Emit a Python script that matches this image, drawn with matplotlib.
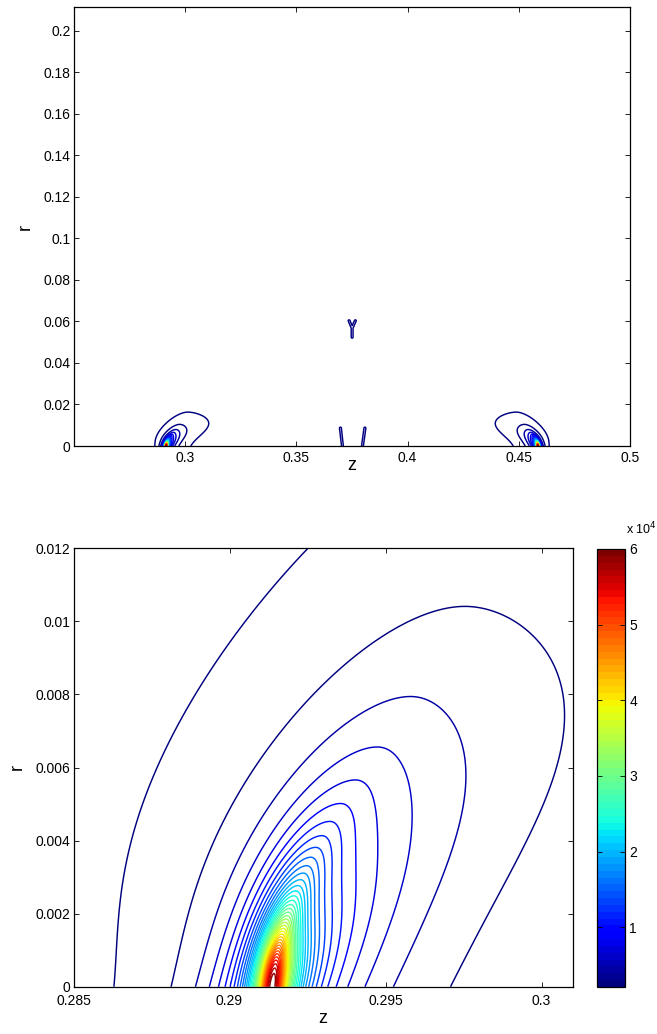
import numpy as np
import matplotlib
matplotlib.use("Agg")
import matplotlib.pyplot as plt
from matplotlib.colors import Normalize
from matplotlib.cm import ScalarMappable

# ---------------- data ----------------
peak_z = [0.29137, 0.45863]          # z of the two peaks (on r = 0)
peak_dir = [1, -1]                   # left blob leans to +z, right blob mirrored
peak_value = 60000.0                 # maximum of the field
core_scale = 17800.0                 # far-field strength (f ~ C / d^1.5)
far_cut = 9.0                        # far-field cut-off (in width units)
z_width = 0.001                      # axial width scale
r_width = 0.0032                     # radial width scale (outer contours)
r_width_inner_gain = 0.45            # extra radial reach of inner contours
r_width_inner_len = 0.002
left_growth = 0.9                    # widening of the trailing side with r
left_growth_len = 2.0
right_growth = 0.09                  # widening of the leading side with r
right_growth_max = 4.0
right_stretch = 0.235                # slower decay on the leading side
lean_inner = 0.15                    # dz/dr lean of inner contours
lean_outer = 0.60                    # dz/dr lean of outer contours
lean_scale = 1.6                     # transition (in width units)

# thin low-level features near z = 0.375 (segments)
artifact_z0 = [0.3707, 0.3797, 0.37506, 0.37506, 0.37506]
artifact_r0 = [0.0, 0.0, 0.0524, 0.0568, 0.0568]
artifact_z1 = [0.3698, 0.3808, 0.37506, 0.3737, 0.3765]
artifact_r1 = [0.0086, 0.0086, 0.0568, 0.0603, 0.0603]
artifact_amp = 2300.0

levels = np.arange(1500, 60000, 1500)
color_limits = (2100, 60000)

top_xlim = (0.25, 0.5)
top_ylim = (0.0, 0.2114)
top_xticks = [0.3, 0.35, 0.4, 0.45, 0.5]
top_yticks = [0, 0.02, 0.04, 0.06, 0.08, 0.1, 0.12, 0.14, 0.16, 0.18, 0.2]
bot_xlim = (0.285, 0.301)
bot_ylim = (0.0, 0.012)
bot_xticks = [0.285, 0.29, 0.295, 0.3]
bot_yticks = [0, 0.002, 0.004, 0.006, 0.008, 0.01, 0.012]
cbar_ticks = [10000, 20000, 30000, 40000, 50000, 60000]
cbar_labels = ["1", "2", "3", "4", "5", "6"]


# ---------------- field model ----------------
def dist2(dz, R, q):
    h = 1.0 + r_width_inner_gain * np.exp(-R / r_width_inner_len)
    rho = R / (r_width * h)
    u = dz - q * R
    gl = 1.0 + left_growth * (1.0 - np.exp(-rho / left_growth_len))
    c = right_growth * rho ** 2
    gr = 1.0 + c / (1.0 + c / (right_growth_max - 1.0))
    al = -u / (z_width * gl)
    ar = np.maximum(u, 0) / (z_width * gr)
    Ur = (-1.0 + np.sqrt(1.0 + 4 * right_stretch * ar)) / (2 * right_stretch)
    U = np.where(u < 0, al, Ur)
    return U ** 2 + rho ** 2


def blob(Z, R, z0, direction):
    dz = direction * (Z - z0)
    d_outer = np.sqrt(dist2(dz, R, lean_outer))
    q = lean_inner + (lean_outer - lean_inner) * (1.0 - np.exp(-(d_outer / lean_scale) ** 2))
    d2 = dist2(dz, R, q)
    eps = (core_scale / peak_value) ** (4.0 / 3.0)
    return core_scale / (eps + d2) ** 0.75 / (1.0 + (d2 / far_cut ** 2) ** 3)


def seg_dist(Z, R, z0, r0, z1, r1, sz, sr):
    pz, pr = Z / sz, R / sr
    az, ar, bz, br = z0 / sz, r0 / sr, z1 / sz, r1 / sr
    vz, vr = bz - az, br - ar
    t = ((pz - az) * vz + (pr - ar) * vr) / (vz * vz + vr * vr)
    t = np.clip(t, 0, 1)
    return np.hypot(pz - (az + t * vz), pr - (ar + t * vr))


def field(Z, R):
    F = np.zeros_like(Z)
    for z0, dr in zip(peak_z, peak_dir):
        F += blob(Z, R, z0, dr)
    dmin = np.full_like(Z, np.inf)
    for a, b, c, d in zip(artifact_z0, artifact_r0, artifact_z1, artifact_r1):
        dmin = np.minimum(dmin, seg_dist(Z, R, a, b, c, d, 0.00045 * 1.4, 0.00048 * 1.4))
    F += artifact_amp * np.exp(-dmin ** 2)
    return F


cmap = plt.get_cmap("jet", 64)
norm = Normalize(*color_limits)

plt.rcParams["font.family"] = ["Liberation Sans", "DejaVu Sans"]

fig = plt.figure(figsize=(6.57, 10.34), dpi=100)
W, H = 657.0, 1034.0


def style(ax, xt, yt, xpad):
    ax.set_xticks(xt)
    ax.set_xticklabels(["%g" % v for v in xt])
    ax.set_yticks(yt)
    ax.set_yticklabels(["%g" % v for v in yt])
    ax.tick_params(direction="in", top=True, right=True, length=3.5, width=0.6,
                   labelsize=10)
    ax.tick_params(axis="x", pad=xpad)
    ax.tick_params(axis="y", pad=2.5)
    for s in ax.spines.values():
        s.set_linewidth(0.9)


LW = 1.05

# ---- top panel ----
ax1 = fig.add_axes([74 / W, 1 - 446 / H, (630 - 74) / W, (446 - 7) / H])
zt = np.linspace(top_xlim[0], top_xlim[1], 5001)
rt = np.concatenate([np.linspace(0, 0.025, 501), np.linspace(0.025, top_ylim[1], 1001)[1:]])
Zt, Rt = np.meshgrid(zt, rt)
ax1.contour(Zt, Rt, field(Zt, Rt), levels=levels, cmap=cmap, norm=norm, linewidths=LW)
ax1.set_xlim(*top_xlim)
ax1.set_ylim(*top_ylim)
style(ax1, top_xticks, top_yticks, 3.5)
ax1.set_xlabel("z", fontsize=13)
ax1.set_ylabel("r", fontsize=13)
ax1.xaxis.set_label_coords(0.5, -0.025)
ax1.yaxis.set_label_coords(-0.072, 0.5)

# ---- bottom panel ----
ax2 = fig.add_axes([73.5 / W, 1 - 986.7 / H, (572.7 - 73.5) / W, (986.7 - 548.3) / H])
zb = np.linspace(bot_xlim[0], bot_xlim[1], 1601)
rb = np.linspace(bot_ylim[0], bot_ylim[1], 1201)
Zb, Rb = np.meshgrid(zb, rb)
ax2.contour(Zb, Rb, field(Zb, Rb), levels=levels, cmap=cmap, norm=norm, linewidths=LW)
ax2.set_xlim(*bot_xlim)
ax2.set_ylim(*bot_ylim)
style(ax2, bot_xticks, bot_yticks, 5.5)
ax2.set_xlabel("z", fontsize=13)
ax2.set_ylabel("r", fontsize=13)
ax2.xaxis.set_label_coords(0.5, -0.054)
ax2.yaxis.set_label_coords(-0.095, 0.5)

# ---- colorbar ----
cax = fig.add_axes([597 / W, 1 - 987 / H, 28 / W, (987 - 549) / H])
sm = ScalarMappable(norm=norm, cmap=cmap)
cb = fig.colorbar(sm, cax=cax)
cb.set_ticks(cbar_ticks)
cb.set_ticklabels(cbar_labels)
cb.outline.set_linewidth(0.9)
cax.tick_params(direction="in", left=True, right=True, length=3.5, width=0.6,
                labelsize=10, pad=3)
fig.text(626 / W, 1 - 537 / H, r"x 10$^{4}$", fontsize=9, ha="left", va="bottom")

fig.savefig("out.png", dpi=100)
